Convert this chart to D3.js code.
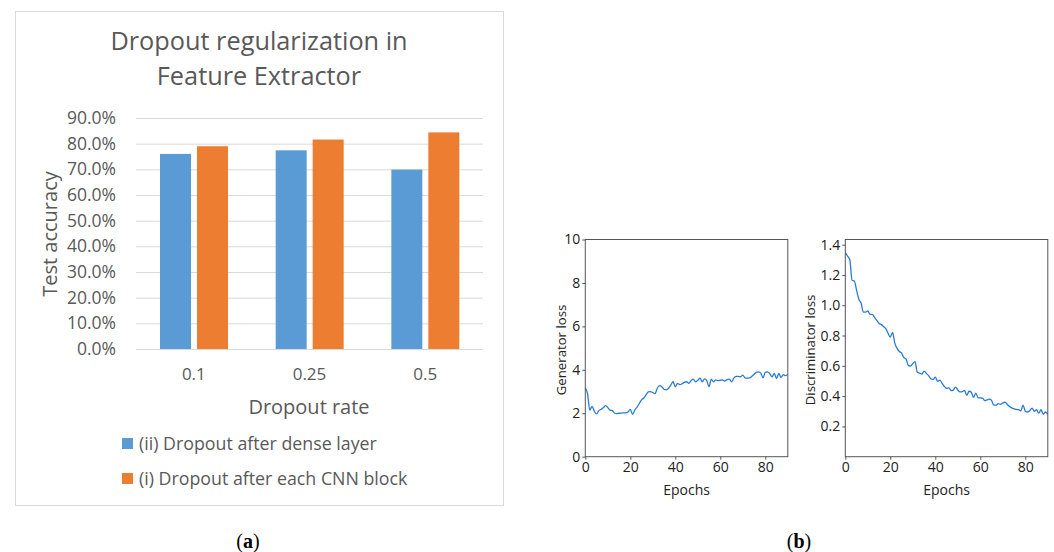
<!DOCTYPE html>
<html>
<head>
<meta charset="utf-8">
<script src="https://cdn.jsdelivr.net/npm/d3@7"></script>
<style>
  body { margin: 0; background: #fff; }
  svg { display: block; }
</style>
</head>
<body>
<div id="chart-area"></div>
<script>
// bar chart data (a)
const rates = ["0.1", "0.25", "0.5"];
const seriesNames = ["(ii) Dropout after dense layer", "(i) Dropout after each CNN block"];
const denseAcc = [0.760, 0.774, 0.699];
const cnnAcc = [0.790, 0.816, 0.844];
const accTicks = [0, 0.1, 0.2, 0.3, 0.4, 0.5, 0.6, 0.7, 0.8, 0.9];

// loss curves (b), one value per epoch 0..90
const genLoss = [3.15, 2.9, 2.15, 2.32, 2.1, 1.97, 2.12, 2.18, 2.25, 2.35,
  2.26, 2.14, 2.12, 2.0, 1.98, 2.0, 2.01, 2.02, 2.02, 2.06,
  2.18, 1.95, 2.15, 2.28, 2.45, 2.62, 2.7, 2.85, 2.98, 3.0,
  2.95, 2.9, 3.15, 3.27, 3.22, 3.1, 3.08, 3.15, 3.3, 3.45,
  3.22, 3.38, 3.32, 3.36, 3.42, 3.45, 3.38, 3.5, 3.57, 3.45,
  3.52, 3.62, 3.45, 3.58, 3.5, 3.22, 3.57, 3.45, 3.54, 3.5,
  3.52, 3.54, 3.48, 3.55, 3.57, 3.45, 3.62, 3.7, 3.7, 3.68,
  3.76, 3.63, 3.62, 3.63, 3.7, 3.8, 3.88, 3.91, 3.85, 3.63,
  3.88, 3.91, 3.82, 3.68, 3.83, 3.6, 3.83, 3.65, 3.78, 3.73, 3.79];
const discLoss = [1.345, 1.325, 1.30, 1.165, 1.16, 1.10, 1.04, 1.015, 0.955, 0.955,
  0.962, 0.94, 0.94, 0.92, 0.9, 0.88, 0.872, 0.86, 0.845, 0.815,
  0.79, 0.82, 0.75, 0.715, 0.695, 0.685, 0.655, 0.645, 0.603, 0.598,
  0.615, 0.628, 0.557, 0.552, 0.545, 0.565, 0.55, 0.535, 0.515, 0.51,
  0.525, 0.498, 0.505, 0.485, 0.465, 0.452, 0.455, 0.437, 0.44, 0.46,
  0.44, 0.428, 0.43, 0.437, 0.405, 0.432, 0.425, 0.392, 0.42, 0.39,
  0.388, 0.387, 0.37, 0.375, 0.38, 0.372, 0.34, 0.34, 0.35, 0.346,
  0.355, 0.36, 0.345, 0.332, 0.322, 0.316, 0.312, 0.31, 0.302, 0.34,
  0.3, 0.295, 0.305, 0.32, 0.3, 0.31, 0.288, 0.31, 0.28, 0.295, 0.28];
const genTicks = [0, 2, 4, 6, 8, 10];
const discTicks = [0.2, 0.4, 0.6, 0.8, 1.0, 1.2, 1.4];
const epochTicks = [0, 20, 40, 60, 80];

const W = 1054, H = 552;
const svg = d3.select("#chart-area")
  .append("svg")
    .attr("width", W)
    .attr("height", H);

// ---------- (a) bar chart ----------
const grey = "#595959";
const barFont = "Open Sans, sans-serif";
const colors = ["#5b9bd5", "#ed7d31"];

svg.append("rect")
  .attr("x", 15.5).attr("y", 11.5)
  .attr("width", 488).attr("height", 494)
  .attr("fill", "#fff")
  .attr("stroke", "#d9d9d9");

svg.append("text")
  .attr("x", 259).attr("y", 50)
  .attr("text-anchor", "middle")
  .attr("font-family", barFont)
  .attr("font-size", "25.3px")
  .attr("fill", grey)
  .text("Dropout regularization in");
svg.append("text")
  .attr("x", 259).attr("y", 85)
  .attr("text-anchor", "middle")
  .attr("font-family", barFont)
  .attr("font-size", "25.3px")
  .attr("fill", grey)
  .text("Feature Extractor");

const y = d3.scaleLinear()
  .domain([0, 0.9])
  .range([349, 118]);

const x0 = d3.scaleBand()
  .domain(rates)
  .range([136, 483]);

const x1 = d3.scaleBand()
  .domain([0, 1])
  .range([24, 92])
  .paddingInner(0.162);

// gridlines
svg.append("g")
  .selectAll("line")
  .data(accTicks)
  .enter().append("line")
    .attr("x1", 136).attr("x2", 483)
    .attr("y1", d => y(d) + 0.5).attr("y2", d => y(d) + 0.5)
    .attr("stroke", "#d9d9d9")
    .attr("stroke-width", 1);

const yAxisCall = d3.axisLeft(y)
  .tickValues(accTicks)
  .tickSize(0)
  .tickPadding(20)
  .tickFormat(d3.format(".1%"));
const yAx = svg.append("g")
  .attr("transform", "translate(136,0)")
  .call(yAxisCall);
yAx.select(".domain").remove();
yAx.selectAll("text")
  .attr("font-family", barFont)
  .attr("font-size", "17.5px")
  .attr("fill", grey);

const xAxisCall = d3.axisBottom(x0).tickSize(0).tickPadding(19);
const xAx = svg.append("g")
  .attr("transform", "translate(0,349)")
  .call(xAxisCall);
xAx.select(".domain").remove();
xAx.selectAll("text")
  .attr("font-family", barFont)
  .attr("font-size", "17px")
  .attr("fill", grey);

const groups = svg.append("g").selectAll("g")
  .data(rates)
  .enter().append("g")
    .attr("transform", d => "translate(" + x0(d) + ",0)");

groups.selectAll("rect")
  .data((d, i) => [denseAcc[i], cnnAcc[i]])
  .enter().append("rect")
    .attr("x", (d, j) => x1(j))
    .attr("y", d => y(d))
    .attr("width", x1.bandwidth())
    .attr("height", d => y(0) - y(d))
    .attr("fill", (d, j) => colors[j]);

svg.append("text")
  .attr("x", 309).attr("y", 414)
  .attr("text-anchor", "middle")
  .attr("font-family", barFont)
  .attr("font-size", "20px")
  .attr("fill", grey)
  .text("Dropout rate");

svg.append("text")
  .attr("transform", "translate(57,234) rotate(-90)")
  .attr("text-anchor", "middle")
  .attr("font-family", barFont)
  .attr("font-size", "20px")
  .attr("fill", grey)
  .text("Test accuracy");

const legend = svg.append("g").selectAll("g")
  .data(seriesNames)
  .enter().append("g")
    .attr("transform", (d, i) => "translate(122," + (438 + i * 35) + ")");
legend.append("rect")
  .attr("width", 11).attr("height", 11)
  .attr("fill", (d, i) => colors[i]);
legend.append("text")
  .attr("x", 17).attr("y", 11.5)
  .attr("font-family", barFont)
  .attr("font-size", "17.8px")
  .attr("fill", grey)
  .text(d => d);

// ---------- (b) loss curves ----------
const lossFont = "Open Sans, sans-serif";

function drawLoss(data, left, yDomain, yTicks, yFmt, label, labelX) {
  const right = left + 202.5;
  const top = 239.5, bottom = 456.7;
  const x = d3.scaleLinear().domain([0, 90]).range([left, right]);
  const yy = d3.scaleLinear().domain(yDomain).range([bottom, top]);

  const g = svg.append("g");

  const line = d3.line()
    .x((d, i) => x(i))
    .y(d => yy(d))
    .curve(d3.curveMonotoneX);
  g.append("path")
    .datum(data)
    .attr("fill", "none")
    .attr("stroke", "#2a7bd4")
    .attr("stroke-width", 1.3)
    .attr("d", line);

  g.append("rect")
    .attr("x", left).attr("y", top)
    .attr("width", right - left).attr("height", bottom - top)
    .attr("fill", "none")
    .attr("stroke", "#555")
    .attr("stroke-width", 1);

  const xa = g.append("g")
    .attr("transform", "translate(0," + bottom + ")")
    .call(d3.axisBottom(x).tickValues(epochTicks).tickSize(3).tickPadding(2));
  const ya = g.append("g")
    .attr("transform", "translate(" + left + ",0)")
    .call(d3.axisLeft(yy).tickValues(yTicks).tickSize(3).tickPadding(2).tickFormat(yFmt));
  [xa, ya].forEach(a => {
    a.select(".domain").remove();
    a.selectAll("line").attr("stroke", "#555");
    a.selectAll("text")
      .attr("font-family", lossFont)
      .attr("font-size", "14px")
      .attr("fill", "#222");
  });

  g.append("text")
    .attr("x", (left + right) / 2).attr("y", 495)
    .attr("text-anchor", "middle")
    .attr("font-family", lossFont)
    .attr("font-size", "14px")
    .attr("fill", "#222")
    .text("Epochs");

  g.append("text")
    .attr("transform", "translate(" + labelX + ",350) rotate(-90)")
    .attr("text-anchor", "middle")
    .attr("font-family", lossFont)
    .attr("font-size", "13.2px")
    .attr("fill", "#222")
    .text(label);
}

drawLoss(genLoss, 585.3, [0, 10], genTicks, d3.format("d"), "Generator loss", 566);
drawLoss(discLoss, 845.3, [0, 1.434], discTicks, d3.format(".1f"), "Discriminator loss", 815);

// captions
[["a", 248], ["b", 799]].forEach(c => {
  const t = svg.append("text")
    .attr("x", c[1]).attr("y", 548)
    .attr("text-anchor", "middle")
    .attr("font-family", "Liberation Serif, serif")
    .attr("font-size", "20px")
    .attr("fill", "#000");
  t.append("tspan").text("(");
  t.append("tspan").attr("font-weight", "bold").text(c[0]);
  t.append("tspan").text(")");
});
</script>
</body>
</html>
